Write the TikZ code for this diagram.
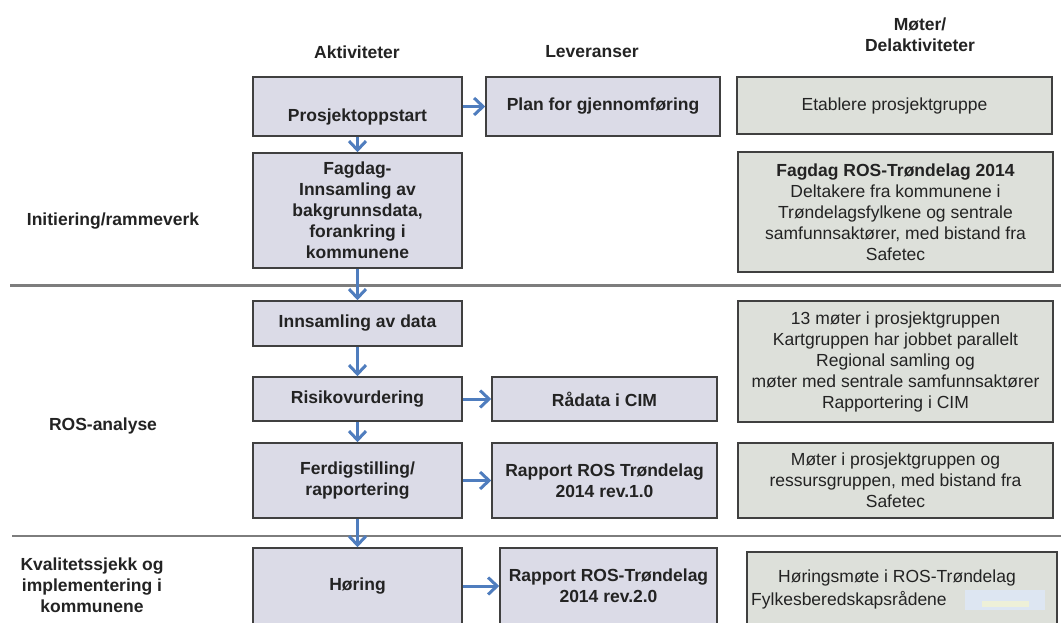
\documentclass[tikz,border=0pt]{standalone}
\usepackage{fontspec}
\setmainfont{Liberation Sans}
\usetikzlibrary{arrows.meta}
\definecolor{actfill}{RGB}{219,219,231}
\definecolor{metfill}{RGB}{221,224,218}
\definecolor{boxline}{RGB}{64,64,64}
\definecolor{arrblue}{RGB}{79,125,190}
\definecolor{sepgray}{RGB}{125,125,125}
\definecolor{txt}{RGB}{35,35,35}
\definecolor{patchblue}{RGB}{221,230,242}
\definecolor{patchyel}{RGB}{238,240,216}
\tikzset{
  actbox/.style={draw=boxline, line width=1.5pt, fill=actfill, inner sep=0pt, align=center, font=\fontsize{17.5}{21}\selectfont\bfseries, text=txt},
  metbox/.style={draw=boxline, line width=1.5pt, fill=metfill, inner sep=0pt, align=center, font=\fontsize{17.5}{21}\selectfont, text=txt},
  plain/.style={inner sep=0pt, align=center, font=\fontsize{17.5}{21}\selectfont, text=txt},
  hdr/.style={inner sep=0pt, align=center, font=\fontsize{17.5}{21}\selectfont\bfseries, text=txt},
  arr/.style={draw=arrblue, line width=3pt, -{Straight Barb[length=9pt,width=17pt]}},
  sepline/.style={draw=sepgray, line width=2.5pt},
}
\begin{document}
\begin{tikzpicture}[x=1pt,y=-1pt]
\useasboundingbox (0,0) rectangle (1061,622);
\fill[white] (0,0) rectangle (1061,622);

% separator lines
\coordinate (l1a) at (10,285.5); \coordinate (l1b) at (1061,285.5);
\coordinate (l2a) at (12,536); \coordinate (l2b) at (1061,536);
\draw[sepline] (l1a) -- (l1b);
\draw[sepline] (l2a) -- (l2b);

% headers
\node[hdr] (hA) at (357,52) {Aktiviteter};
\node[hdr] (hB) at (592,52) {Leveranser};
\node[hdr] (hC) at (920,35) {Møter/\\Delaktiviteter};

% left labels
\node[hdr] (lab1) at (113,221) {Initiering/rammeverk};
\node[hdr] (lab2) at (103,426) {ROS-analyse};
\node[hdr] (lab3) at (92,585) {Kvalitetssjekk og\\implementering i\\kommunene};

% activities
\node[actbox, minimum width=209, minimum height=59] (a1) at (357.5,106.5) {\phantom{P}\\Prosjektoppstart};
\node[actbox, minimum width=209, minimum height=115] (a2) at (357.5,210.5) {Fagdag-\\Innsamling av\\bakgrunnsdata,\\forankring i\\kommunene};
\node[actbox, minimum width=209, minimum height=45] (a3) at (357.5,323.5) {Innsamling av data};
\node[actbox, minimum width=209, minimum height=44] (a4) at (357.5,399) {Risikovurdering};
\node[actbox, minimum width=209, minimum height=75] (a5) at (357.5,480.5) {Ferdigstilling/\\rapportering};
\node[actbox, minimum width=209, minimum height=76] (a6) at (357.5,586) {Høring};

% deliverables
\node[actbox, minimum width=234, minimum height=59] (b1) at (603,106.5) {Plan for gjennomføring};
\node[actbox, minimum width=225, minimum height=44] (b4) at (604.5,399) {Rådata i CIM};
\node[actbox, minimum width=225, minimum height=75] (b5) at (604.5,480.5) {Rapport ROS Trøndelag\\2014 rev.1.0};
\node[actbox, minimum width=217, minimum height=76] (b6) at (608.5,586) {Rapport ROS-Trøndelag\\2014 rev.2.0};

% meetings
\node[metbox, minimum width=315, minimum height=57] (c1) at (894.5,105.5) {Etablere prosjektgruppe};
\node[metbox, minimum width=315, minimum height=120] (c2) at (895.5,212) {\textbf{Fagdag ROS-Trøndelag 2014}\\Deltakere fra kommunene i\\Trøndelagsfylkene og sentrale\\samfunnsaktører, med bistand fra\\Safetec};
\node[metbox, minimum width=315, minimum height=121] (c4) at (895.5,361.5) {13 møter i prosjektgruppen\\Kartgruppen har jobbet parallelt\\Regional samling og\\møter med sentrale samfunnsaktører\\Rapportering i CIM};
\node[metbox, minimum width=315, minimum height=75] (c5) at (895.5,480.5) {Møter i prosjektgruppen og\\ressursgruppen, med bistand fra\\Safetec};
\node[metbox, minimum width=310, minimum height=73] (c6) at (902,588.5) {};
\node[plain] (c6t1) at (897,578) {Høringsmøte i ROS-Trøndelag};
\node[plain, anchor=west] (c6t2) at (751,600) {Fylkesberedskapsrådene};
\fill[patchblue] (965,590) rectangle (1045,610);
\fill[patchyel] (982,601) rectangle (1029,607);

% arrows
\draw[arr] (a1) -- (a2);
\draw[arr] (a2) -- (a3);
\draw[arr] (a3) -- (a4);
\draw[arr] (a4) -- (a5);
\draw[arr] (a5) -- (a6);
\draw[arr] (a1) -- (b1);
\draw[arr] (a4) -- (b4);
\draw[arr] (a5) -- (b5);
\draw[arr] (a6) -- (b6);
\end{tikzpicture}
\end{document}
